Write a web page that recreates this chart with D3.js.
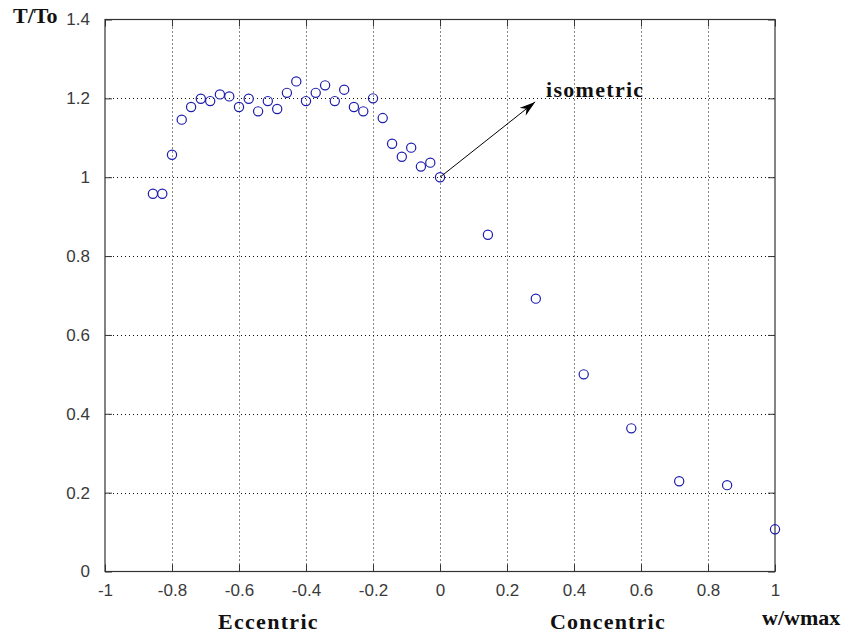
<!DOCTYPE html>
<html>
<head>
<meta charset="utf-8">
<script src="https://cdn.jsdelivr.net/npm/d3@7"></script>
<style>
  html, body { margin: 0; padding: 0; background: #fff; }
  svg { display: block; }
</style>
</head>
<body>
<svg id="chart" width="850" height="635"></svg>
<script>
// Normalised velocity (w/wmax) of each measurement
const speed = [
  -0.857, -0.829, -0.800, -0.771, -0.743, -0.714, -0.686, -0.657, -0.629, -0.600,
  -0.571, -0.543, -0.514, -0.486, -0.457, -0.429, -0.400, -0.371, -0.343, -0.314,
  -0.286, -0.257, -0.229, -0.200, -0.171, -0.143, -0.114, -0.086, -0.057, -0.029,
   0.000,  0.143,  0.286,  0.429,  0.571,  0.714,  0.857,  1.000
];
// Normalised torque (T/To) at each velocity
const torque = [
  0.958, 0.958, 1.057, 1.146, 1.178, 1.199, 1.193, 1.210, 1.205, 1.178,
  1.199, 1.167, 1.193, 1.173, 1.214, 1.243, 1.193, 1.214, 1.233, 1.193,
  1.222, 1.178, 1.167, 1.200, 1.150, 1.085, 1.052, 1.075, 1.027, 1.037,
  1.000, 0.854, 0.692, 0.500, 0.363, 0.229, 0.219, 0.107
];
const xTicks = [-1, -0.8, -0.6, -0.4, -0.2, 0, 0.2, 0.4, 0.6, 0.8, 1];
const yTicks = [0, 0.2, 0.4, 0.6, 0.8, 1, 1.2, 1.4];
// Arrow pointing from the isometric point towards its label: [from, to] in data units
const arrowFrom = [0, 1.0];
const arrowTo = [0.284, 1.191];

const svg = d3.select("#chart");
const plotL = 105, plotR = 775, plotT = 19.5, plotB = 571.5;

const x = d3.scaleLinear().domain([-1, 1]).range([plotL, plotR]);
const y = d3.scaleLinear().domain([0, 1.4]).range([plotB, plotT]);

const tickFont = "'Liberation Sans', Arial, sans-serif";
const labelFont = "'Liberation Serif', 'Times New Roman', serif";
const plain = d => String(d);   // keep an ASCII hyphen for negatives

// Dotted grid
const grid = svg.append("g").attr("stroke", "#111").attr("stroke-width", 1)
  .attr("stroke-dasharray", "1 3");
grid.selectAll("line.gx").data(xTicks.slice(1, -1)).join("line")
  .attr("x1", d => Math.round(x(d)) + 0.5).attr("x2", d => Math.round(x(d)) + 0.5)
  .attr("y1", plotT).attr("y2", plotB);
grid.selectAll("line.gy").data(yTicks.slice(1, -1)).join("line")
  .attr("y1", d => Math.round(y(d)) + 0.5).attr("y2", d => Math.round(y(d)) + 0.5)
  .attr("x1", plotL).attr("x2", plotR);

// Axes: inward ticks on all four sides, labels on bottom and left
const tickLen = 7;
const axisStyle = g => {
  g.select(".domain").remove();
  g.selectAll(".tick line").attr("stroke", "#333");
  g.selectAll(".tick text").attr("font-family", tickFont).attr("font-size", 17).attr("fill", "#3a3a3a");
};
svg.append("g").attr("transform", `translate(0,${plotB})`)
  .call(d3.axisBottom(x).tickValues(xTicks).tickSizeInner(-tickLen).tickSizeOuter(0)
    .tickPadding(12).tickFormat(plain))
  .call(axisStyle);
svg.append("g").attr("transform", `translate(0,${plotT})`)
  .call(d3.axisTop(x).tickValues(xTicks).tickSizeInner(-tickLen).tickSizeOuter(0).tickFormat(""))
  .call(axisStyle);
svg.append("g").attr("transform", `translate(${plotL},0)`)
  .call(d3.axisLeft(y).tickValues(yTicks).tickSizeInner(-tickLen).tickSizeOuter(0)
    .tickPadding(15).tickFormat(plain))
  .call(axisStyle);
svg.append("g").attr("transform", `translate(${plotR},0)`)
  .call(d3.axisRight(y).tickValues(yTicks).tickSizeInner(-tickLen).tickSizeOuter(0).tickFormat(""))
  .call(axisStyle);

// Box
svg.append("rect")
  .attr("x", plotL).attr("y", plotT).attr("width", plotR - plotL).attr("height", plotB - plotT)
  .attr("fill", "none").attr("stroke", "#333").attr("stroke-width", 1.2);

// Measurements
const pts = speed.map((s, i) => ({ s, t: torque[i] }));
svg.append("g").selectAll("circle").data(pts).join("circle")
  .attr("cx", d => x(d.s)).attr("cy", d => y(d.t)).attr("r", 4.6)
  .attr("fill", "none").attr("stroke", "#1c1cae").attr("stroke-width", 1.2);

// Arrow annotation
svg.append("defs").append("marker")
  .attr("id", "head").attr("viewBox", "0 0 16 10")
  .attr("refX", 16).attr("refY", 5).attr("markerWidth", 16).attr("markerHeight", 10)
  .attr("markerUnits", "userSpaceOnUse").attr("orient", "auto")
  .append("path").attr("d", "M0,0 L16,5 L0,10 L5,5 Z").attr("fill", "#000");
svg.append("line")
  .attr("x1", x(arrowFrom[0])).attr("y1", y(arrowFrom[1]))
  .attr("x2", x(arrowTo[0])).attr("y2", y(arrowTo[1]))
  .attr("stroke", "#000").attr("stroke-width", 1).attr("marker-end", "url(#head)");

// Text labels
const label = (txt, px, py, ls) => svg.append("text")
  .attr("x", px).attr("y", py).text(txt)
  .attr("font-family", labelFont).attr("font-weight", "bold").attr("font-size", 22)
  .attr("letter-spacing", ls).attr("fill", "#111");
label("T/To", 13, 23, 0);
label("isometric", 546, 97, 1.3);
label("Eccentric", 218, 629, 1.3);
label("Concentric", 550, 629, 1.2);
label("w/wmax", 762, 625, 0);
</script>
</body>
</html>
